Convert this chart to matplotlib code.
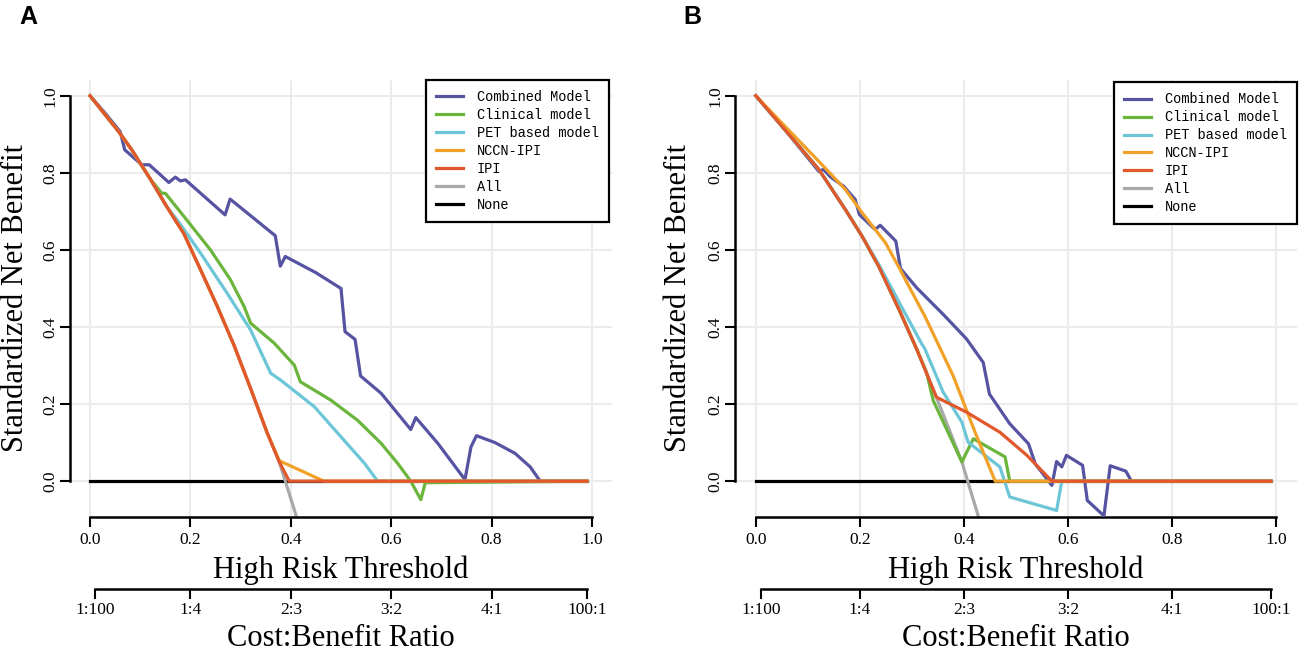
import matplotlib
matplotlib.use("Agg")
import matplotlib.pyplot as plt

plt.rcParams['font.family'] = ['Liberation Serif', 'DejaVu Serif']

# colours of the curves
colors = {
    'Combined Model': '#5653A2',
    'Clinical model': '#6BB53C',
    'PET based model': '#6CC6D8',
    'NCCN-IPI': '#F2A128',
    'IPI': '#E0582B',
    'All': '#A8A8A8',
    'None': '#000000',
}
legend_order = ['Combined Model', 'Clinical model', 'PET based model',
                'NCCN-IPI', 'IPI', 'All', 'None']

# ---------------- panel A ----------------
a_comb_x = [0, 0.03, 0.06, 0.069, 0.103, 0.118, 0.157, 0.17, 0.18, 0.19, 0.269, 0.279,
            0.369, 0.379, 0.389, 0.45, 0.50, 0.508, 0.528, 0.539, 0.58, 0.639, 0.649,
            0.693, 0.747, 0.759, 0.77, 0.807, 0.847, 0.877, 0.897, 0.99]
a_comb_y = [1.0, 0.955, 0.907, 0.86, 0.821, 0.821, 0.775, 0.789, 0.779, 0.782, 0.691, 0.732,
            0.637, 0.558, 0.583, 0.541, 0.50, 0.388, 0.368, 0.273, 0.228, 0.134, 0.165,
            0.098, 0.004, 0.089, 0.118, 0.100, 0.072, 0.037, 0.0, 0.0]

a_clin_x = [0, 0.057, 0.083, 0.12, 0.143, 0.15, 0.187, 0.24, 0.28, 0.307, 0.32, 0.367,
            0.407, 0.419, 0.48, 0.533, 0.58, 0.613, 0.639, 0.659, 0.668, 0.99]
a_clin_y = [1.0, 0.907, 0.86, 0.784, 0.747, 0.747, 0.687, 0.60, 0.522, 0.453, 0.41, 0.358,
            0.301, 0.258, 0.21, 0.158, 0.098, 0.046, 0.0, -0.048, -0.004, 0.0]

a_pet_x = [0, 0.057, 0.083, 0.12, 0.153, 0.177, 0.22, 0.273, 0.32, 0.36, 0.38, 0.447, 0.5,
           0.547, 0.573, 0.99]
a_pet_y = [1.0, 0.907, 0.86, 0.784, 0.712, 0.672, 0.592, 0.488, 0.392, 0.28, 0.262, 0.193,
           0.115, 0.046, 0.0, 0.0]

a_nccn_x = [0, 0.057, 0.083, 0.12, 0.153, 0.187, 0.22, 0.253, 0.287, 0.32, 0.353, 0.377,
            0.466, 0.99]
a_nccn_y = [1.0, 0.907, 0.86, 0.784, 0.712, 0.642, 0.549, 0.455, 0.352, 0.24, 0.125, 0.053,
            0.0, 0.0]

a_ipi_x = [0, 0.057, 0.083, 0.12, 0.153, 0.187, 0.22, 0.253, 0.287, 0.32, 0.353, 0.377,
           0.397, 0.99]
a_ipi_y = [1.0, 0.907, 0.86, 0.784, 0.712, 0.642, 0.549, 0.455, 0.352, 0.24, 0.125, 0.05,
           0.0, 0.0]

a_all_x = [0, 0.057, 0.083, 0.12, 0.153, 0.187, 0.22, 0.253, 0.287, 0.32, 0.353, 0.377, 0.41]
a_all_y = [1.0, 0.907, 0.86, 0.784, 0.712, 0.642, 0.549, 0.455, 0.352, 0.24, 0.125, 0.05,
           -0.087]

# ---------------- panel B ----------------
b_comb_x = [0, 0.056, 0.121, 0.13, 0.143, 0.169, 0.191, 0.199, 0.229, 0.239, 0.269, 0.278,
            0.309, 0.36, 0.405, 0.437, 0.449, 0.488, 0.524, 0.537, 0.569, 0.578, 0.588,
            0.597, 0.628, 0.637, 0.669, 0.681, 0.711, 0.722, 0.99]
b_comb_y = [1.0, 0.912, 0.804, 0.809, 0.79, 0.765, 0.731, 0.692, 0.653, 0.664, 0.623, 0.552,
            0.502, 0.433, 0.369, 0.308, 0.226, 0.149, 0.097, 0.045, -0.011, 0.051, 0.037,
            0.067, 0.041, -0.05, -0.09, 0.04, 0.026, 0.0, 0.0]

b_clin_x = [0, 0.056, 0.121, 0.172, 0.204, 0.236, 0.277, 0.309, 0.328, 0.341, 0.396, 0.418,
            0.479, 0.488, 0.99]
b_clin_y = [1.0, 0.912, 0.809, 0.705, 0.636, 0.558, 0.44, 0.343, 0.283, 0.209, 0.05, 0.11,
            0.063, 0.0, 0.0]

b_pet_x = [0, 0.056, 0.121, 0.172, 0.204, 0.236, 0.262, 0.277, 0.319, 0.325, 0.36, 0.396,
           0.408, 0.469, 0.488, 0.578, 0.588, 0.99]
b_pet_y = [1.0, 0.912, 0.809, 0.705, 0.636, 0.563, 0.498, 0.46, 0.356, 0.343, 0.231, 0.153,
           0.101, 0.037, -0.041, -0.076, 0.0, 0.0]

b_nccn_x = [0, 0.056, 0.121, 0.172, 0.204, 0.249, 0.277, 0.287, 0.326, 0.379, 0.424, 0.46, 0.99]
b_nccn_y = [1.0, 0.921, 0.83, 0.757, 0.697, 0.619, 0.55, 0.524, 0.425, 0.274, 0.118, 0.0, 0.0]

b_ipi_x = [0, 0.056, 0.121, 0.172, 0.204, 0.236, 0.277, 0.309, 0.347, 0.405, 0.469, 0.521,
           0.569, 0.99]
b_ipi_y = [1.0, 0.912, 0.809, 0.705, 0.636, 0.558, 0.44, 0.343, 0.218, 0.179, 0.127, 0.067,
           0.0, 0.0]

b_all_x = [0, 0.056, 0.121, 0.172, 0.204, 0.236, 0.277, 0.309, 0.347, 0.396, 0.428]
b_all_y = [1.0, 0.912, 0.809, 0.705, 0.636, 0.558, 0.44, 0.343, 0.218, 0.05, -0.093]

none_x = [0, 0.99]
none_y = [0, 0]

x_ticks = [0.0, 0.2, 0.4, 0.6, 0.8, 1.0]
y_ticks = [0.0, 0.2, 0.4, 0.6, 0.8, 1.0]
cb_ticks = [1 / 101, 0.2, 0.4, 0.6, 0.8, 100 / 101]
cb_labels = ['1:100', '1:4', '2:3', '3:2', '4:1', '100:1']


def draw_panel(ax, curves, legend_anchor):
    ax.set_xlim(-0.04, 1.04)
    ax.set_ylim(-0.093, 1.041)
    ax.grid(True, color='#EBEBEB', linewidth=1.5)
    ax.set_axisbelow(True)

    # None and All first, models on top (IPI last)
    ax.plot(none_x, none_y, color=colors['None'], lw=2.3, zorder=2)
    ax.plot(*curves['All'], color=colors['All'], lw=2.3, zorder=2)
    for name in ['Combined Model', 'Clinical model', 'PET based model', 'NCCN-IPI', 'IPI']:
        ax.plot(*curves[name], color=colors[name], lw=2.3, zorder=3)

    handles = [plt.Line2D([], [], color=colors[n], lw=2.3) for n in legend_order]
    leg = ax.legend(handles, legend_order, loc='upper right', bbox_to_anchor=legend_anchor,
                    borderaxespad=0, fancybox=False, framealpha=1, edgecolor='black',
                    prop={'family': 'Liberation Mono', 'size': 9.8},
                    handlelength=2.0, handletextpad=1.0, labelspacing=0.29,
                    borderpad=0.75)
    leg.get_frame().set_linewidth(1.6)

    for s in ['top', 'right']:
        ax.spines[s].set_visible(False)
    ax.spines['left'].set_bounds(0, 1)
    ax.spines['bottom'].set_bounds(0, 1)
    ax.spines['left'].set_linewidth(1.8)
    ax.spines['bottom'].set_linewidth(1.8)

    ax.set_xticks(x_ticks, labels=[f'{v:.1f}' for v in x_ticks])
    ax.set_yticks(y_ticks, labels=[f'{v:.1f}' for v in y_ticks])
    ax.tick_params(axis='both', length=7, width=1.5, labelsize=12.5)
    ax.tick_params(axis='x', pad=4)
    ax.tick_params(axis='y', pad=1.5)
    for lab in ax.get_yticklabels():
        lab.set_rotation(90)
        lab.set_va('center')

    ax.text(0.5, -0.121, 'High Risk Threshold', transform=ax.transAxes,
            ha='center', va='center', fontsize=22)
    ax.text(-0.1, 0.5, 'Standardized Net Benefit', transform=ax.transAxes,
            ha='center', va='center', rotation=90, fontsize=22)

    sec = ax.secondary_xaxis(-0.165)
    sec.set_xticks(cb_ticks, labels=cb_labels)
    sec.spines['bottom'].set_bounds(cb_ticks[0], cb_ticks[-1])
    sec.spines['bottom'].set_linewidth(1.8)
    sec.tick_params(length=7, width=1.5, labelsize=12.5, pad=2)
    ax.text(0.5, -0.277, 'Cost:Benefit Ratio', transform=ax.transAxes,
            ha='center', va='center', fontsize=22)


fig = plt.figure(figsize=(12.99, 6.56), dpi=100)
axA = fig.add_axes([70 / 1299, 139 / 656, 542 / 1299, 437 / 656])
axB = fig.add_axes([735 / 1299, 139 / 656, 562 / 1299, 437 / 656])

curves_a = {
    'Combined Model': (a_comb_x, a_comb_y),
    'Clinical model': (a_clin_x, a_clin_y),
    'PET based model': (a_pet_x, a_pet_y),
    'NCCN-IPI': (a_nccn_x, a_nccn_y),
    'IPI': (a_ipi_x, a_ipi_y),
    'All': (a_all_x, a_all_y),
}
curves_b = {
    'Combined Model': (b_comb_x, b_comb_y),
    'Clinical model': (b_clin_x, b_clin_y),
    'PET based model': (b_pet_x, b_pet_y),
    'NCCN-IPI': (b_nccn_x, b_nccn_y),
    'IPI': (b_ipi_x, b_ipi_y),
    'All': (b_all_x, b_all_y),
}

draw_panel(axA, curves_a, (0.9945, 1.0))
draw_panel(axB, curves_b, (1.0, 0.995))

fig.text(19 / 1299, 1 - 17 / 656, 'A', fontsize=18, fontweight='bold',
         family='Liberation Sans', va='center', ha='left')
fig.text(683 / 1299, 1 - 17 / 656, 'B', fontsize=18, fontweight='bold',
         family='Liberation Sans', va='center', ha='left')

fig.savefig('out.png', dpi=100)
